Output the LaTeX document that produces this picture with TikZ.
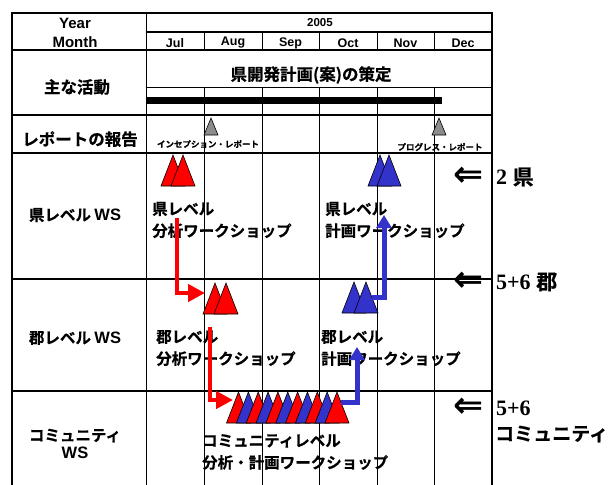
\documentclass[tikz,border=0pt]{standalone}
\usepackage{fontspec}
\setmainfont{Liberation Sans}
\newfontfamily\jp{Noto Sans CJK JP}[BoldFont={Noto Sans CJK JP Bold},BoldFeatures={FakeBold=0.6}]
\newfontfamily\tnr{Liberation Serif}
\newfontfamily\dv{DejaVu Sans}
\usetikzlibrary{arrows.meta}
\definecolor{tred}{RGB}{255,0,0}
\definecolor{tblue}{RGB}{51,51,204}
\definecolor{tgray}{RGB}{140,140,140}
\newcommand\mytri[3]{\draw[fill=#3,line width=0.6pt,line join=miter] (#1,#2) -- ++(-12,31) -- ++(24,0) -- cycle;}
\newcommand\wsfont{\rmfamily\bfseries\fontsize{16.5}{16.5}\selectfont}
\begin{document}
\begin{tikzpicture}[x=1pt,y=-1pt,
  thickln/.style={line width=1.8pt},
  midln/.style={line width=1.2pt},
  thinln/.style={line width=0.9pt},
  hdr/.style={font=\bfseries\fontsize{15}{15}\selectfont,inner sep=0},
  mon/.style={font=\bfseries\fontsize{12.5}{12.5}\selectfont,inner sep=0},
  rowlab/.style={font=\jp\bfseries\fontsize{16.5}{16.5}\selectfont,inner sep=0},
  wslab/.style={font=\jp\bfseries\fontsize{15.5}{18}\selectfont,inner sep=0,align=center},
  wstext/.style={font=\jp\bfseries\fontsize{15.5}{22}\selectfont,align=left,anchor=west,inner sep=0},
  rep/.style={font=\jp\bfseries\fontsize{8.5}{8.5}\selectfont,inner sep=0},
  larrow/.style={font=\dv\bfseries\fontsize{36}{36}\selectfont,inner sep=0},
  cnt/.style={font=\tnr\bfseries\fontsize{22}{22}\selectfont,inner sep=0,anchor=west},
  redarr/.style={draw=tred,line width=4.3pt,-{Triangle[length=17pt,width=17pt]}},
  bluearr/.style={draw=tblue,line width=5pt,-{Triangle[length=13pt,width=15pt]}}]
\useasboundingbox (0,0) rectangle (611,485);
% grid
\foreach \x in {204,262,319,377,434}{
  \draw[thinln] (\x,32) -- (\x,50);
  \draw[thinln] (\x,87) -- (\x,485);
}
\draw[midln] (146.5,32) -- (492,32);
\draw[thinln] (146.5,87) -- (492,87);
\draw[midln] (12,279) -- (492,279);
\draw[midln] (12,391) -- (492,391);
\draw[thickln] (12,50) -- (492,50);
\draw[thickln] (12,115) -- (492,115);
\draw[thickln] (12,153) -- (492,153);
\draw[thickln] (146.5,13) -- (146.5,485);
\draw[thickln] (12,485) -- (12,13) -- (492,13) -- (492,485);
% bar
\fill (146.5,97) rectangle (442,104);
% header texts
\node[hdr] (year) at (75,23) {Year};
\node[hdr] (month) at (75,42) {Month};
\node[font=\bfseries\fontsize{11.5}{11.5}\selectfont,inner sep=0] (y2005) at (320,23) {2005};
\node[mon] (jul) at (175,43) {Jul};
\node[mon] (aug) at (233,43) {Aug};
\node[mon] (sep) at (290.5,43) {Sep};
\node[mon] (oct) at (348,43) {Oct};
\node[mon] (nov) at (405.5,43) {Nov};
\node[mon] (dec) at (463,43) {Dec};
\node[font=\jp\bfseries\fontsize{16.5}{16.5}\selectfont,inner sep=0] (plan) at (311,75) {県開発計画(案)の策定};
% row labels
\node[rowlab] (act) at (77,87) {主な活動};
\node[rowlab] (repl) at (80,139) {レポートの報告};
\node[wslab] (ken) at (75,215) {県レベル {\wsfont WS}};
\node[wslab] (gun) at (75,338) {郡レベル {\wsfont WS}};
\node[wslab] (com) at (75,444) {コミュニティ\\{\wsfont WS}};
% report triangles
\draw[fill=tgray,line width=0.6pt] (211,118) -- (204,135) -- (218,135) -- cycle;
\draw[fill=tgray,line width=0.6pt] (439,118) -- (432,135) -- (446,135) -- cycle;
\node[rep] (incep) at (208,144) {インセプション・レポート};
\node[rep] (prog) at (440,147) {プログレス・レポート};
% ws texts
\node[wstext] (t1) at (152,220) {県レベル\\分析ワークショップ};
\node[wstext] (t2) at (325,220) {県レベル\\計画ワークショップ};
\node[wstext] (t3) at (156,348) {郡レベル\\分析ワークショップ};
\node[wstext] (t4) at (321,348) {郡レベル\\計画ワークショップ};
\node[wstext] (t5) at (202,452) {コミュニティレベル\\分析・計画ワークショップ};
% triangles
\mytri{173}{155}{tred}
\mytri{183}{155}{tred}
\mytri{380}{155}{tblue}
\mytri{389}{155}{tblue}
\mytri{215}{283}{tred}
\mytri{226}{283}{tred}
\mytri{354}{282}{tblue}
\mytri{366}{282}{tblue}
\foreach \i/\c in {0/tred,1/tblue,2/tred,3/tblue,4/tred,5/tblue,6/tred,7/tblue,8/tred,9/tblue,10/tred}{
  \mytri{238.5+9.85*\i}{392}{\c}
}
% arrows
\coordinate (r1s) at (177,218);
\coordinate (r1e) at (205,293);
\coordinate (r2s) at (210,327);
\coordinate (r2e) at (233,400);
\coordinate (b1s) at (372,297);
\coordinate (b1e) at (384,215);
\coordinate (b2s) at (341,402);
\coordinate (b2e) at (357,347);
\draw[redarr] (r1s) |- (r1e);
\draw[redarr] (r2s) |- (r2e);
\draw[bluearr] (b1s) -| (b1e);
\draw[bluearr] (b2s) -| (b2e);
% right labels
\node[larrow] (a1) at (469,177) {⇐};
\node[larrow] (a2) at (469,282) {⇐};
\node[larrow] (a3) at (469,408) {⇐};
\node[cnt] (c1) at (496,177) {2 {\jp\bfseries\fontsize{21}{21}\selectfont 県}};
\node[cnt] (c2) at (496,282) {5+6 {\jp\bfseries\fontsize{21}{21}\selectfont 郡}};
\node[cnt] (c3) at (496,408) {5+6};
\node[cnt,font=\jp\bfseries\fontsize{19}{19}\selectfont] (c4) at (495,434) {コミュニティ};
\end{tikzpicture}
\end{document}
